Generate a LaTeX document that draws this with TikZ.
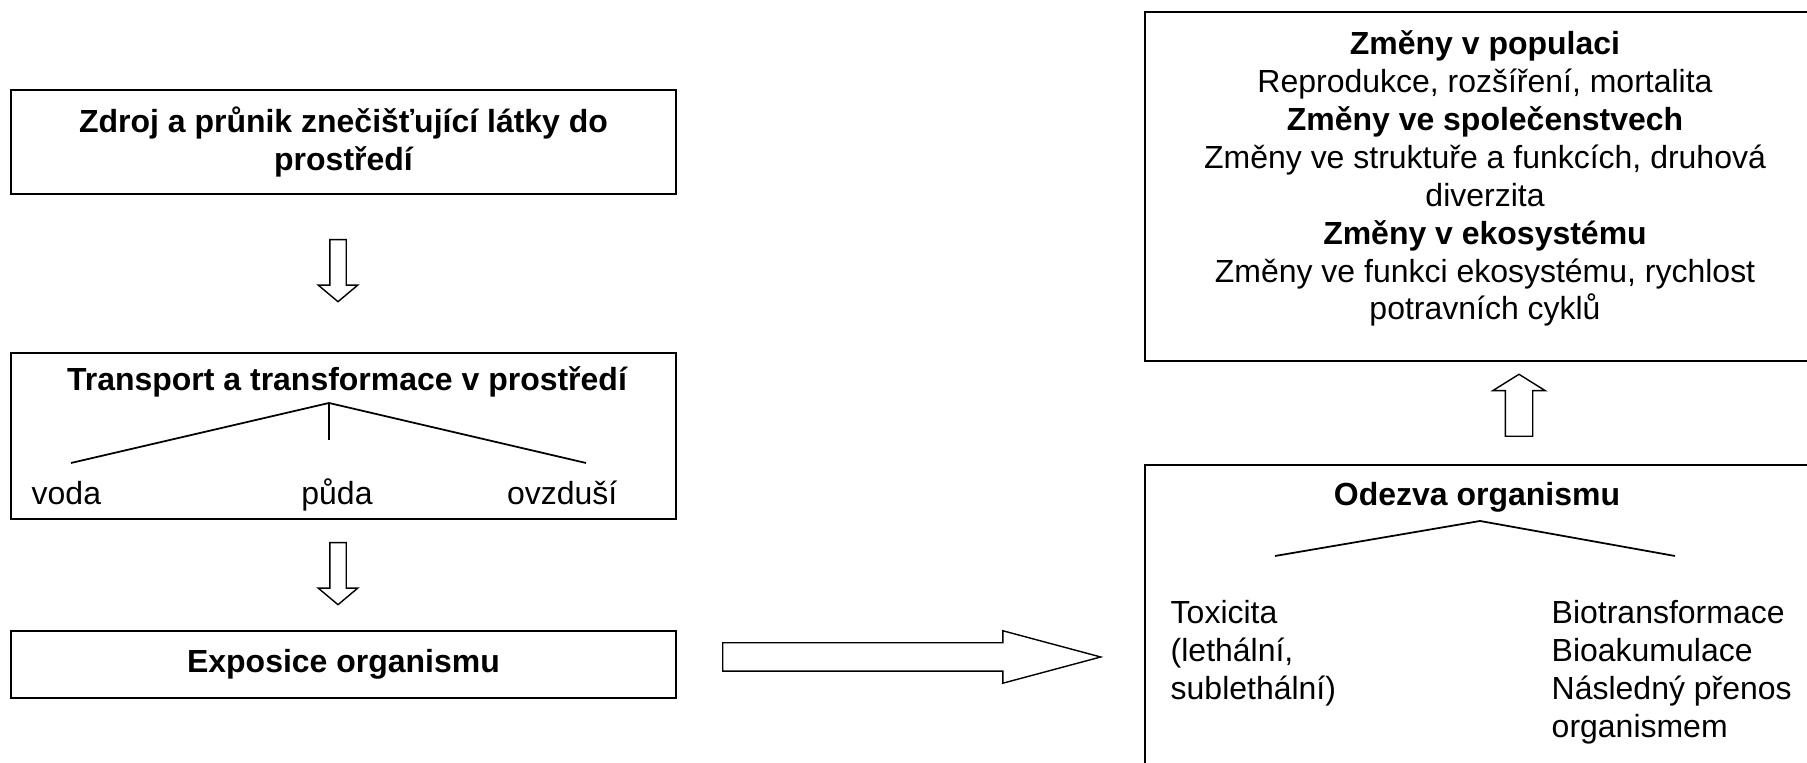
\documentclass[tikz,border=0pt]{standalone}
\usepackage{fontspec}
\setmainfont{Liberation Sans}
\usetikzlibrary{positioning,shapes.arrows}

\begin{document}
\begin{tikzpicture}[
  font=\fontsize{9.1}{10.8}\selectfont,
  box/.style={draw, line width=0.6pt, align=center, inner sep=0pt},
  head/.style={font=\fontsize{9.1}{10.8}\selectfont\bfseries, align=center, inner sep=0pt},
  txt/.style={align=left, inner sep=0pt},
  branch/.style={line width=0.5pt},
  barrow/.style={draw, single arrow, line width=0.4pt, anchor=tail,
                 single arrow head indent=0pt},
]
\useasboundingbox (0,0) rectangle (18.07,7.63);
% Left column
\node[box, minimum width=6.65cm, minimum height=1.04cm, font=\fontsize{9.1}{10.8}\selectfont\bfseries]
  (zdroj) at (3.435,6.21) {Zdroj a průnik znečišťující látky do\\prostředí};
\node[box, minimum width=6.65cm, minimum height=1.66cm] (transport) at (3.435,3.27) {};
\node[box, minimum width=6.65cm, minimum height=0.67cm, font=\fontsize{9.1}{10.8}\selectfont\bfseries]
  (expo) at (3.435,0.985) {Exposice organismu};
% Transport split
\node[head] (trtitle) at (3.47,3.81) {Transport a transformace v prostředí};
\coordinate (trpeak) at (3.29,3.60);
\coordinate (trmid)  at (3.29,3.23);
\coordinate (trleft) at (0.71,3.00);
\coordinate (trright) at (5.86,3.00);
\draw[branch] (trleft) -- (trpeak) -- (trright);
\draw[branch] (trpeak) -- (trmid);
\node[txt, anchor=base west] (voda)   at (0.31,2.585) {voda};
\node[txt, anchor=base]      (puda)   at (3.37,2.585) {půda};
\node[txt, anchor=base east] (ovzdusi) at (6.18,2.585) {ovzduší};
% Right column
\node[box, minimum width=6.8cm, minimum height=3.49cm] (zmeny) at (14.85,5.765) {};
\node[txt, align=center] (zmenytext) at (14.85,5.845)
  {\textbf{Změny v populaci}\\
   Reprodukce, rozšíření, mortalita\\
   \textbf{Změny ve společenstvech}\\
   Změny ve struktuře a funkcích, druhová\\
   diverzita\\
   \textbf{Změny v ekosystému}\\
   Změny ve funkci ekosystému, rychlost\\
   potravních cyklů};
\node[box, minimum width=6.8cm, minimum height=3.28cm] (odezva) at (14.85,1.34) {};
% Odezva split
\node[head] (odtitle) at (14.77,2.66) {Odezva organismu};
\coordinate (odpeak)  at (14.80,2.42);
\coordinate (odleft)  at (12.75,2.07);
\coordinate (odright) at (16.75,2.07);
\draw[branch] (odleft) -- (odpeak) -- (odright);
% base = last line
\node[txt, anchor=base west] (toxicita) at (11.70,0.638)
  {Toxicita\\(lethální,\\sublethální)};
\node[txt, anchor=base west] (biotrans) at (15.51,0.257)
  {Biotransformace\\Bioakumulace\\Následný přenos\\organismem};
% Block arrows (placed by their tail)
\node[barrow, rotate=-90, inner sep=0.075cm, minimum height=0.62cm,
      single arrow head extend=0.115cm, single arrow tip angle=100] (arr1) at (3.38,5.24) {};
\node[barrow, rotate=-90, inner sep=0.075cm, minimum height=0.62cm,
      single arrow head extend=0.115cm, single arrow tip angle=100] (arr2) at (3.38,2.21) {};
\node[barrow, inner sep=0.135cm, minimum height=3.78cm,
      single arrow head extend=0.12cm, single arrow tip angle=30] (arr3) at (7.22,1.06) {};
\node[barrow, rotate=90, inner sep=0.13cm, minimum height=0.62cm,
      single arrow head extend=0.125cm, single arrow tip angle=116] (arr4) at (15.19,3.26) {};
\end{tikzpicture}
\end{document}
